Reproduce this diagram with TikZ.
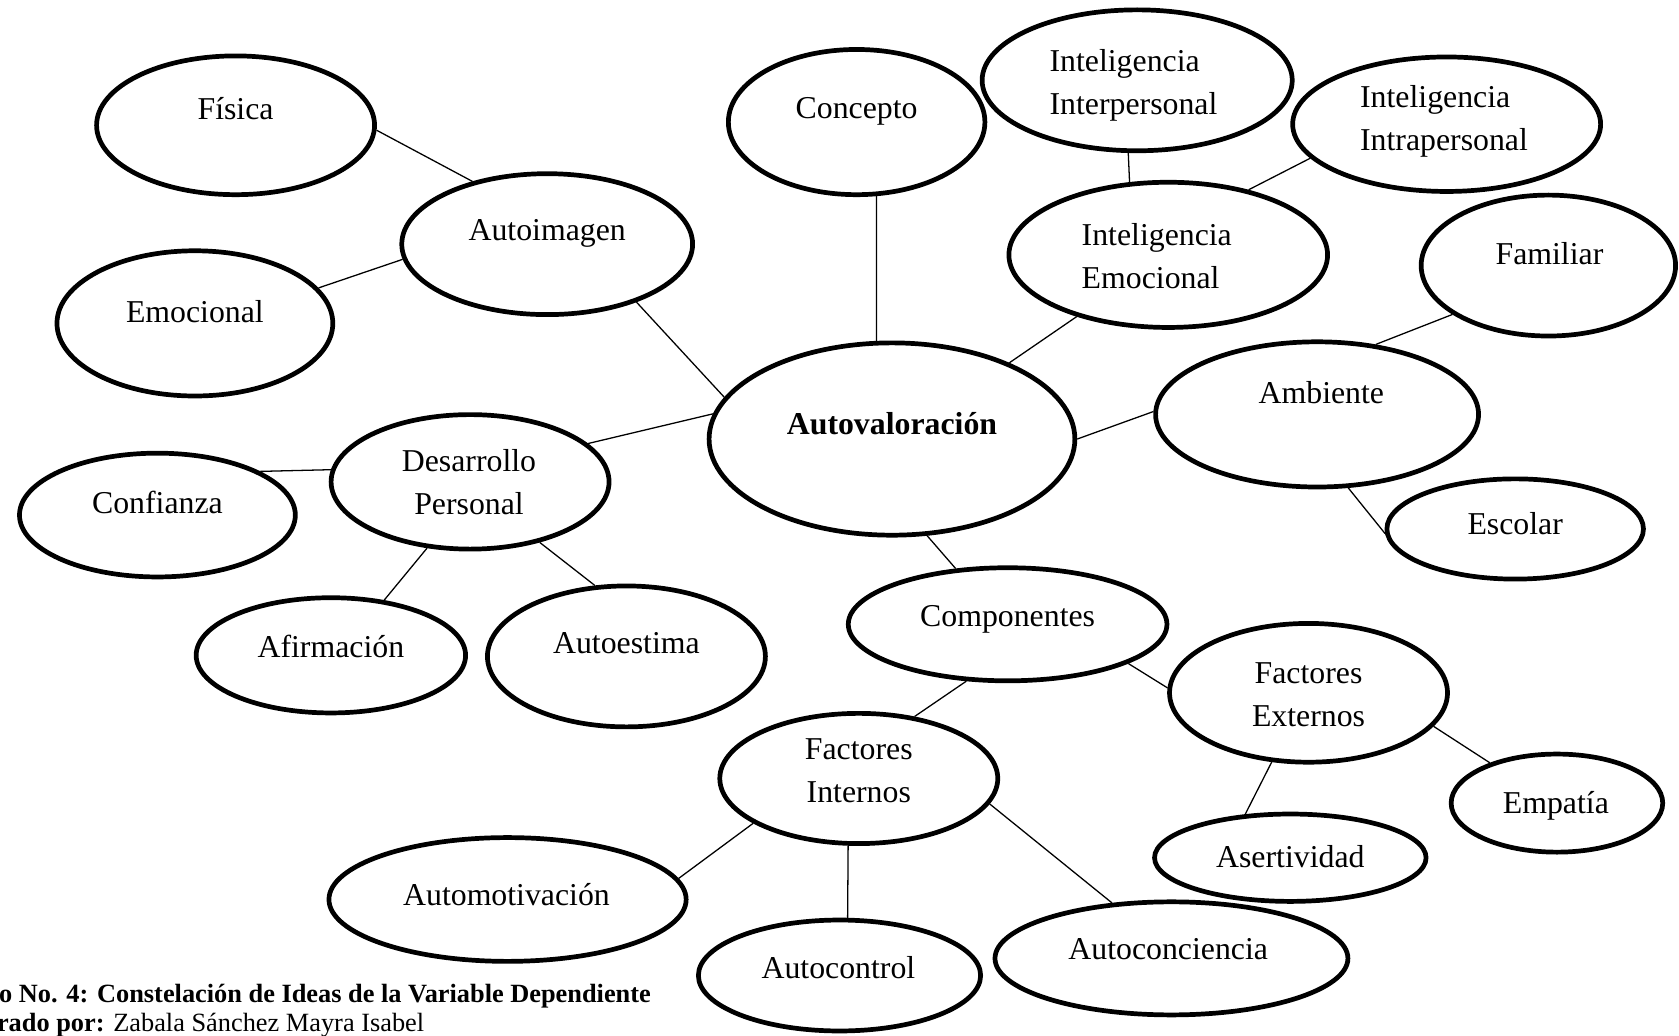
\documentclass[tikz,border=0pt]{standalone}
\usepackage{fontspec}
\setmainfont{Liberation Serif}
\usetikzlibrary{shapes.geometric}

\tikzset{
  bubble/.style 2 args={ellipse, draw, line width=4.4pt,
    minimum width=#1-4.4pt, minimum height=#2-4.4pt, inner sep=0pt},
  word/.style={inner sep=0pt, font=\fontsize{29.7}{40}\selectfont,
    text height=20pt, text depth=0pt},
  lines/.style={inner sep=0pt, font=\fontsize{29.7}{40}\selectfont, align=center},
  link/.style={line width=1.2pt},
  note/.style={inner sep=0pt, anchor=west, font=\fontsize{24.6}{27}\selectfont,
    text height=16pt, text depth=0pt}
}

\begin{document}
\begin{tikzpicture}[x=1pt, y=-1pt]
\useasboundingbox (0,0) rectangle (1568,967);

% ellipses
\node[bubble={264}{134}] (fisica)         at (220,117) {};
\node[bubble={276}{136}] (autoimagen)     at (511,228) {};
\node[bubble={262}{140}] (emocional)      at (182,302) {};
\node[bubble={244}{140}] (concepto)       at (800,114) {};
\node[bubble={294}{136}] (interpersonal)  at (1062,75) {};
\node[bubble={292}{130}] (intrapersonal)  at (1351,116) {};
\node[bubble={302}{140}] (intemocional)   at (1091,238) {};
\node[bubble={242}{136}] (familiar)       at (1446,248) {};
\node[bubble={346}{184}] (autoval)        at (833,410) {};
\node[bubble={306}{140}] (ambiente)       at (1230,387) {};
\node[bubble={244}{98}]  (escolar)        at (1415,494) {};
\node[bubble={264}{130}] (desarrollo)     at (439,450) {};
\node[bubble={262}{120}] (confianza)      at (147,481) {};
\node[bubble={256}{112}] (afirmacion)     at (309,612) {};
\node[bubble={264}{136}] (autoestima)     at (585,613) {};
\node[bubble={302}{110}] (componentes)    at (941,583) {};
\node[bubble={264}{134}] (externos)       at (1222,647) {};
\node[bubble={264}{126}] (internos)       at (802,727) {};
\node[bubble={202}{96}]  (empatia)        at (1454,750) {};
\node[bubble={258}{86}]  (asertividad)    at (1205,801) {};
\node[bubble={338}{120}] (automotivacion) at (474,840) {};
\node[bubble={268}{108}] (autocontrol)    at (784,911) {};
\node[bubble={334}{110}] (autoconciencia) at (1094,895) {};

% texts
\node[word] (t-fisica)     at (220,102) {Física};
\node[word] (t-autoimagen) at (511,215) {Autoimagen};
\node[word] (t-emocional)  at (182,291) {Emocional};
\node[word] (t-concepto)   at (800,101) {Concepto};
\node[lines, align=left, anchor=west] (t-interpersonal) at (980,80) {Inteligencia\\Interpersonal};
\node[lines, align=left, anchor=west] (t-intrapersonal) at (1270,113) {Inteligencia\\Intrapersonal};
\node[lines, align=left, anchor=west] (t-intemocional)  at (1010,239) {Inteligencia\\Emocional};
\node[word] (t-familiar)   at (1447,237) {Familiar};
\node[word, font=\fontsize{29.7}{40}\selectfont\bfseries] (t-autoval) at (833,396) {Autovaloración};
\node[word] (t-ambiente)   at (1234,367) {Ambiente};
\node[word] (t-escolar)    at (1415,489) {Escolar};
\node[lines] (t-desarrollo) at (438,450) {Desarrollo\\Personal};
\node[word] (t-confianza)  at (147,470) {Confianza};
\node[word] (t-afirmacion) at (309,604) {Afirmación};
\node[word] (t-autoestima) at (585,600) {Autoestima};
\node[word] (t-componentes) at (941,575) {Componentes};
\node[lines] (t-externos)  at (1222,649) {Factores\\Externos};
\node[lines] (t-internos)  at (802,720) {Factores\\Internos};
\node[word] (t-empatia)    at (1453,750) {Empatía};
\node[word] (t-asertividad) at (1205,800) {Asertividad};
\node[word] (t-automotivacion) at (473,836) {Automotivación};
\node[word] (t-autocontrol) at (783,904) {Autocontrol};
\node[word] (t-autoconciencia) at (1091,886) {Autoconciencia};

% links
\draw[link] (fisica.-2) -- (autoimagen.140.8);
\draw[link] (emocional.16.7) -- (autoimagen.-174);
\draw[link] (autoimagen.-33.8) -- (autoval.166.6);
\draw[link] (concepto.-75.4) -- (autoval.99.3);
\draw[link] (interpersonal.-97.1) -- (intemocional.118.1);
\draw[link] (intrapersonal.-166.9) -- (intemocional.39.5);
\draw[link] (intemocional.-146.2) -- (autoval.33.9);
\draw[link] (familiar.-153.7) -- (ambiente.50.2);
\draw[link] (autoval.-0.7) -- (ambiente.179.6);
\draw[link] (ambiente.-67.9) -- (escolar.-178.6);
\draw[link] (desarrollo.18.4) -- (autoval.172.8);
\draw[link] (confianza.23.4) -- (desarrollo.175.2);
\draw[link] (desarrollo.-123.7) -- (afirmacion.46.2);
\draw[link] (desarrollo.-41.3) -- (autoestima.114.4);
\draw[link] (autoval.-70.2) -- (componentes.133.3);
\draw[link] (componentes.-18.7) -- (externos.178.3);
\draw[link] (componentes.-126.7) -- (internos.48.4);
\draw[link] (externos.-15.5) -- (empatia.149.6);
\draw[link] (externos.-118.3) -- (asertividad.136.4);
\draw[link] (internos.-157.7) -- (automotivacion.7.5);
\draw[link] (internos.-99.9) -- (autocontrol.82.6);
\draw[link] (internos.-11.3) -- (autoconciencia.137.1);

% caption
\node[note] (caption) at (-1,928) {\bfseries o No. 4: Constelación de Ideas de la Variable Dependiente};
\node[note] (author)  at (-3,955) {\textbf{rado por:} Zabala Sánchez Mayra Isabel};
\end{tikzpicture}
\end{document}
